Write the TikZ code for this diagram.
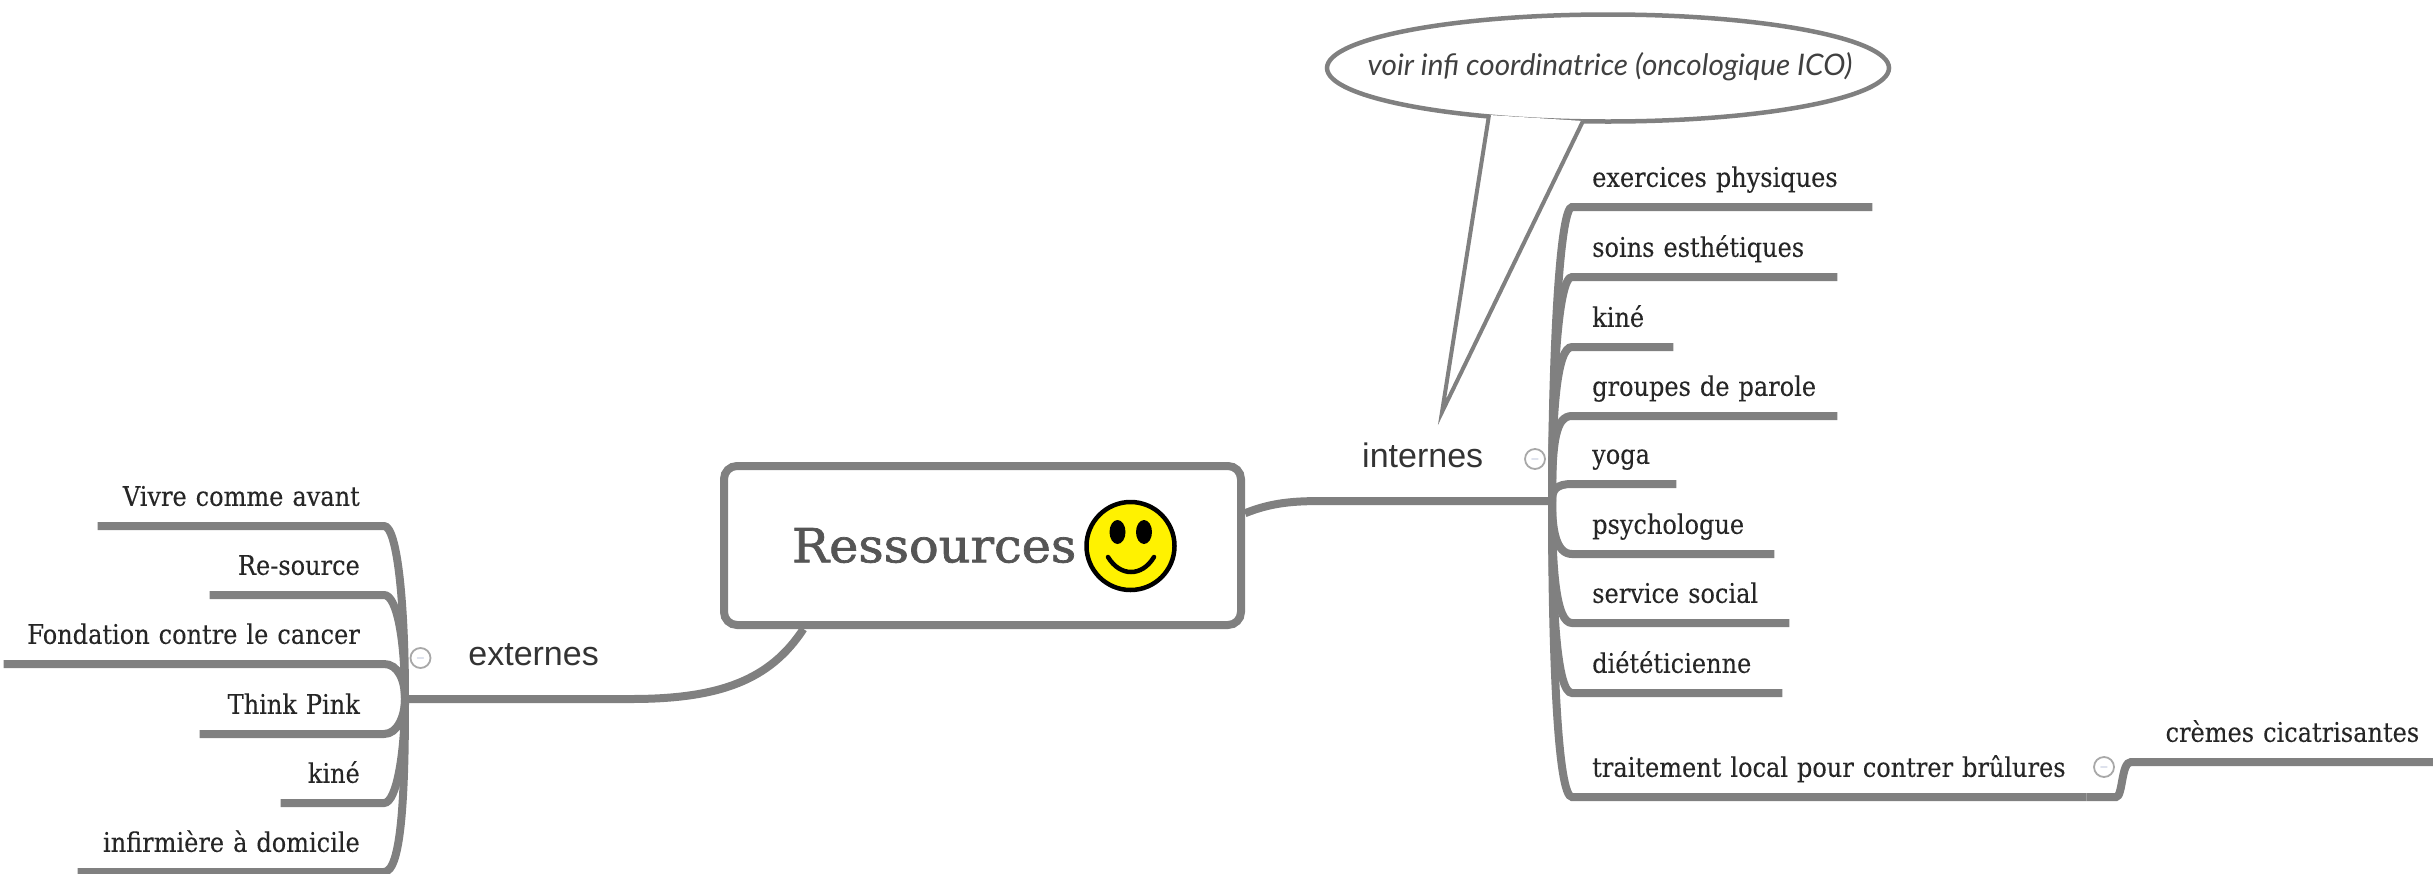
\documentclass[tikz,border=0pt]{standalone}
\usepackage{fontspec}
\usepackage{tikz}
\usetikzlibrary{shapes.geometric}
\newfontfamily\leaffont{DejaVu Serif}[FakeStretch=0.89,FakeBold=0.2,WordSpace=0.8]
\newfontfamily\titlefont{DejaVu Serif}[FakeStretch=1.05,FakeBold=1.5]
\newfontfamily\topicfont{Liberation Sans}
\newfontfamily\notefont{Lato}
\definecolor{linegrey}{HTML}{808080}
\definecolor{titlegrey}{HTML}{555555}
\definecolor{togglegrey}{HTML}{A8A8A8}
\definecolor{toggleblue}{HTML}{7080B0}
\tikzset{
	branch/.style = {line width=8pt, draw=linegrey},
	leaf/.style = {inner xsep=20pt, inner ysep=0pt, text depth=20pt, text=black!85,
		font=\leaffont\fontsize{27}{30}\selectfont},
	topic/.style = {inner xsep=32pt, inner ysep=0pt, text depth=33pt, text=black!80,
		font=\topicfont\fontsize{34}{36}\selectfont},
	toggle/.style = {circle, minimum size=20pt, inner sep=0pt, draw=togglegrey, line width=1.8pt,
		text=toggleblue, font=\fontsize{12}{12}\selectfont}
}
\begin{document}
\begin{tikzpicture}[x=1pt, y=-1pt]
				\useasboundingbox (0,0) rectangle (2433,873);
				% centre
				\node[rectangle, rounded corners=13pt,
				minimum width = 517pt,
				minimum height = 159pt, inner xsep=68pt, text width=381pt, align=left,
				line width=8pt, draw=linegrey, fill=white, text=titlegrey,
				font=\titlefont\fontsize{47}{50}\selectfont] (root) at(982.5,545.5){Ressources};
				\node[circle, minimum size=88pt, inner sep=0pt, line width=4.5pt, draw=black, fill=yellow] (smiley) at(1130.5,546){};
				\node[ellipse, minimum width=16pt, minimum height=24pt, inner sep=0pt, fill=black] (lefteye) at(1117.5,532){};
				\node[ellipse, minimum width=16pt, minimum height=24pt, inner sep=0pt, fill=black] (righteye) at(1144,532){};
				\draw[line width=4.5pt, line cap=round] (1108,557) .. controls (1120,577) and (1142,577) .. (1154,557);
				% internes
				\node[topic, anchor=south west, text width=153pt, align=left] (internes) at(1330,501){internes};
				\coordinate (hubright) at(1552,501);
				\node[toggle] (toggleright) at(1535,459){$-$};
				\draw[branch] (root.7.6) .. controls (1275,501) and (1300,501) .. (internes.south west) -- (internes.south east) -- (hubright);
				\node[leaf, anchor=south west, text width=260pt, align=left] (exercices) at(1572,207){exercices physiques};
				\node[leaf, anchor=south west, text width=225pt, align=left] (soins) at(1572,277){soins esthétiques};
				\node[leaf, anchor=south west, text width=61pt, align=left] (kineright) at(1572,347){kiné};
				\node[leaf, anchor=south west, text width=225pt, align=left] (groupes) at(1572,416){groupes de parole};
				\node[leaf, anchor=south west, text width=64pt, align=left] (yoga) at(1572,484){yoga};
				\node[leaf, anchor=south west, text width=162pt, align=left] (psychologue) at(1572,554){psychologue};
				\node[leaf, anchor=south west, text width=177pt, align=left] (service) at(1572,623){service social};
				\node[leaf, anchor=south west, text width=170pt, align=left] (dieteticienne) at(1572,693){diététicienne};
				\node[leaf, anchor=south west, text width=474pt, align=left] (traitement) at(1572,797){traitement local pour contrer brûlures};
				\draw[branch] (hubright) .. controls (1552,350) and (1560,207) .. (exercices.south west) -- (exercices.south east);
				\draw[branch] (hubright) .. controls (1552,380) and (1558,277) .. (soins.south west) -- (soins.south east);
				\draw[branch] (hubright) .. controls (1552,410) and (1557,347) .. (kineright.south west) -- (kineright.south east);
				\draw[branch] (hubright) .. controls (1552,440) and (1556,416) .. (groupes.south west) -- (groupes.south east);
				\draw[branch] (hubright) .. controls (1552,490) and (1556,484) .. (yoga.south west) -- (yoga.south east);
				\draw[branch] (hubright) .. controls (1552,530) and (1556,554) .. (psychologue.south west) -- (psychologue.south east);
				\draw[branch] (hubright) .. controls (1552,570) and (1556,623) .. (service.south west) -- (service.south east);
				\draw[branch] (hubright) .. controls (1552,610) and (1557,693) .. (dieteticienne.south west) -- (dieteticienne.south east);
				\draw[branch] (hubright) .. controls (1552,660) and (1558,797) .. (traitement.south west) -- (traitement.south east);
				\node[toggle] (toggletraitement) at(2104,767){$-$};
				\node[leaf, anchor=south west, inner xsep=14pt, text width=274pt, align=right] (cremes) at(2131,762){crèmes cicatrisantes};
				\draw[branch] (traitement.south east) -- (2116,797) .. controls (2123,797) and (2121,762) .. (cremes.south west) -- (cremes.south east);
				% externes
				\node[topic, anchor=south east, text width=133pt, align=right] (externes) at(631,699){externes};
				\coordinate (hubleft) at(405,699);
				\node[toggle] (toggleleft) at(420.5,658){$-$};
				\draw[branch] (root.-155.7) .. controls (770,680) and (720,699) .. (externes.south east) -- (externes.south west) -- (hubleft);
				\node[leaf, anchor=south east, inner xsep=24pt, text width=238pt, align=right] (vivre) at(384,526){Vivre comme avant};
				\node[leaf, anchor=south east, inner xsep=24pt, text width=126pt, align=right] (resource) at(384,595){Re-source};
				\node[leaf, anchor=south east, inner xsep=18pt, text width=344pt, align=right, xshift=0pt] (fondation) at(384,664){\hspace*{-8pt}\mbox{Fondation contre le cancer}\hspace*{6pt}};
				\node[leaf, anchor=south east, inner xsep=24pt, text width=136pt, align=right] (thinkpink) at(384,734){Think Pink};
				\node[leaf, anchor=south east, inner xsep=24pt, text width=55pt, align=right] (kineleft) at(384,803){kiné};
				\node[leaf, anchor=south east, inner xsep=24pt, text width=258pt, align=right] (infirmiere) at(384,872){infirmière à domicile};
				\draw[branch] (hubleft) .. controls (405,600) and (397,526) .. (vivre.south east) -- (vivre.south west);
				\draw[branch] (hubleft) .. controls (405,640) and (397,595) .. (resource.south east) -- (resource.south west);
				\draw[branch] (hubleft) .. controls (405,680) and (398,664) .. (fondation.south east) -- (fondation.south west);
				\draw[branch] (hubleft) .. controls (405,715) and (398,734) .. (thinkpink.south east) -- (thinkpink.south west);
				\draw[branch] (hubleft) .. controls (405,750) and (397,803) .. (kineleft.south east) -- (kineleft.south west);
				\draw[branch] (hubleft) .. controls (405,790) and (402,872) .. (infirmiere.south east) -- (infirmiere.south west);
				% bulle
				\node[ellipse, minimum width=562pt, minimum height=107pt, inner sep=0pt, line width=4.5pt,
				draw=linegrey, fill=white] (bubble) at(1608,68){};
				\coordinate (tailleft) at(1489,115);
				\coordinate (tailtip) at(1442,412);
				\coordinate (tailright) at(1583,121);
				\fill[white] (tailleft) -- (tailtip) -- (tailright) -- cycle;
				\draw[line width=4pt, draw=linegrey, miter limit=20] (tailleft) -- (tailtip) -- (tailright);
				\node[text=black!75, inner sep=0pt,
				font=\notefont\itshape\fontsize{29.7}{32}\selectfont] (bubbletext) at(1610,67){voir infi coordinatrice (oncologique ICO)};
			\end{tikzpicture}
\end{document}
